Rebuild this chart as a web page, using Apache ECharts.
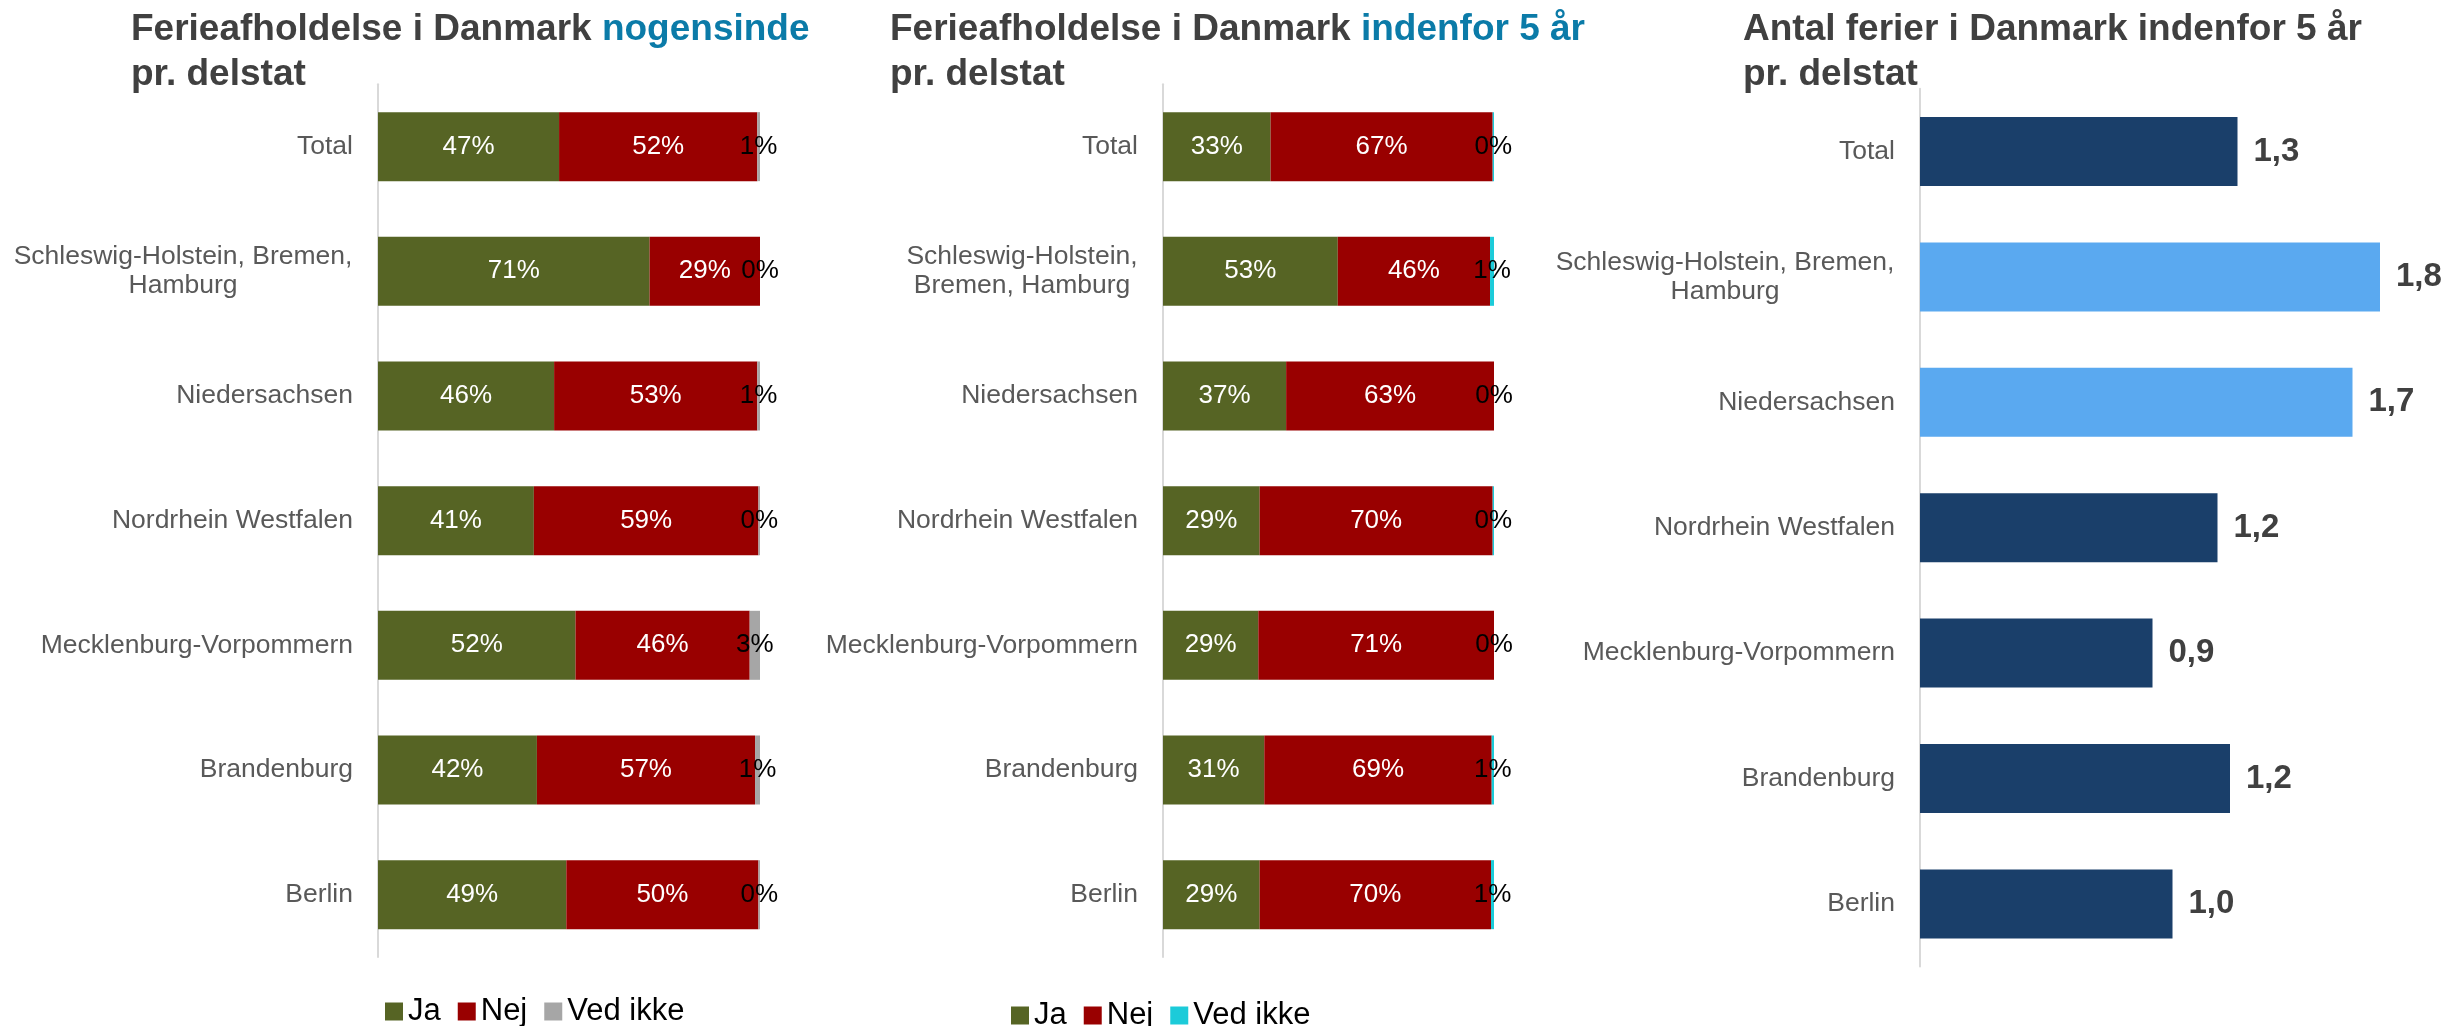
<!DOCTYPE html>
<html>
<head>
<meta charset="utf-8">
<script src="https://cdn.jsdelivr.net/npm/echarts@6/dist/echarts.min.js"></script>
<style>
  html, body { margin: 0; padding: 0; background: #fff; }
  #main { width: 2448px; height: 1026px; }
</style>
</head>
<body>
<div id="main"></div>
<script>
// delstater (oppefra og ned)
var categories = ['Total', 'Schleswig-Holstein, Bremen, Hamburg', 'Niedersachsen', 'Nordrhein Westfalen',
    'Mecklenburg-Vorpommern', 'Brandenburg', 'Berlin'];

// ferieafholdelse nogensinde (%)
var everJa      = [47.4, 71.1, 46.1, 40.8, 51.7, 41.6, 49.3];
var everNej     = [51.9, 28.9, 53.2, 58.8, 45.6, 57.1, 50.3];
var everVedIkke = [0.7, 0.0, 0.7, 0.4, 2.7, 1.3, 0.4];

// ferieafholdelse indenfor 5 år (%)
var recentJa      = [32.5, 52.8, 37.2, 29.2, 28.8, 30.6, 29.2];
var recentNej     = [67.1, 46.0, 62.8, 70.4, 71.2, 68.7, 69.9];
var recentVedIkke = [0.4, 1.2, 0.0, 0.4, 0.0, 0.7, 0.9];

// antal ferier indenfor 5 år
var tripsPerState = [1.27, 1.84, 1.73, 1.19, 0.93, 1.24, 1.01];
var highlighted = ['Schleswig-Holstein, Bremen, Hamburg', 'Niedersachsen'];

var FONT = "'Liberation Sans', Arial, sans-serif";
var cJa = '#566424', cNej = '#990000', cGrey = '#a6a6a6', cCyan = '#1ccbd9';
var cNavy = '#1a3f6a', cLight = '#5aa9f0';

function catLabel(firstLineWidth, breakMode) {
    return {
        color: '#595959', fontSize: 26.5, fontFamily: FONT, margin: 25, lineHeight: 29,
        formatter: function (v) {
            if (v.indexOf('Hamburg') < 0) return v;
            var txt = breakMode === 1 ? 'Schleswig-Holstein,\nBremen, Hamburg'
                                      : 'Schleswig-Holstein, Bremen,\nHamburg';
            return txt.split('\n').map(function (l) { return '{c|' + l + '}'; }).join('\n');
        },
        rich: { c: { width: firstLineWidth, align: 'center', color: '#595959', fontSize: 26.5,
                     fontFamily: FONT, lineHeight: 29 } }
    };
}

function yAxisFor(idx, labelWidth, breakMode) {
    return {
        type: 'category', gridIndex: idx, data: categories, inverse: true,
        axisLine: { show: true, lineStyle: { color: '#d9d9d9', width: 2 } },
        axisTick: { show: false },
        axisLabel: catLabel(labelWidth, breakMode)
    };
}

function pct(p) { return Math.round(p.value) + '%'; }

function stackSeries(name, data, color, idx, stack, labelColor) {
    return {
        name: name, type: 'bar', stack: stack, xAxisIndex: idx, yAxisIndex: idx,
        data: data, barWidth: 69,
        itemStyle: { color: color },
        label: { show: true, position: 'inside', formatter: pct, color: labelColor,
                 fontSize: 26, fontFamily: FONT },
        emphasis: { disabled: true }
    };
}

function titleFor(left, first, blue) {
    return {
        left: left, top: 7, padding: 0,
        text: '{a|' + first + '}' + (blue ? '{b|' + blue + '}' : '') + '\n{a|pr. delstat}',
        textStyle: {
            rich: {
                a: { fontSize: 37, fontWeight: 'bold', color: '#404040', fontFamily: FONT, lineHeight: 45 },
                b: { fontSize: 37, fontWeight: 'bold', color: '#0b7ba8', fontFamily: FONT, lineHeight: 45 }
            }
        }
    };
}

var myChart = echarts.init(document.getElementById('main'));
var option = {
    animation: false,
    backgroundColor: '#fff',
    title: [
        titleFor(131, 'Ferieafholdelse i Danmark ', 'nogensinde'),
        titleFor(890, 'Ferieafholdelse i Danmark ', 'indenfor 5 år'),
        titleFor(1743, 'Antal ferier i Danmark indenfor 5 år', null)
    ],
    legend: [
        {
            left: 380, top: 991, itemWidth: 18, itemHeight: 18, itemGap: 17, icon: 'rect',
            textStyle: { fontSize: 31, color: '#000', fontFamily: FONT },
            data: [{ name: 'Ja', itemStyle: { color: cJa } },
                   { name: 'Nej', itemStyle: { color: cNej } },
                   { name: 'Ved ikke', itemStyle: { color: cGrey } }]
        },
        {
            left: 1006, top: 995, itemWidth: 18, itemHeight: 18, itemGap: 17, icon: 'rect',
            textStyle: { fontSize: 31, color: '#000', fontFamily: FONT },
            data: [{ name: 'Ja', itemStyle: { color: cJa } },
                   { name: 'Nej', itemStyle: { color: cNej } },
                   { name: 'Ved ikke', itemStyle: { color: cCyan } }]
        }
    ],
    grid: [
        { left: 378, top: 84.3, width: 382, height: 872.7 },
        { left: 1163, top: 84.3, width: 331, height: 872.7 },
        { left: 1920, top: 88.8, width: 500, height: 877.8 }
    ],
    xAxis: [
        { type: 'value', gridIndex: 0, min: 0, max: 100, show: false },
        { type: 'value', gridIndex: 1, min: 0, max: 100, show: false },
        { type: 'value', gridIndex: 2, min: 0, max: 2, show: false }
    ],
    yAxis: [
        yAxisFor(0, 340, 0),
        yAxisFor(1, 232, 1),
        yAxisFor(2, 340, 0)
    ],
    series: [
        stackSeries('Ja', everJa, cJa, 0, 'ever', '#fff'),
        stackSeries('Nej', everNej, cNej, 0, 'ever', '#fff'),
        stackSeries('Ved ikke', everVedIkke, cGrey, 0, 'ever', '#000'),
        stackSeries('Ja', recentJa, cJa, 1, 'recent', '#fff'),
        stackSeries('Nej', recentNej, cNej, 1, 'recent', '#fff'),
        stackSeries('Ved ikke', recentVedIkke, cCyan, 1, 'recent', '#000'),
        {
            name: 'Antal ferier', type: 'bar', xAxisIndex: 2, yAxisIndex: 2, barWidth: 69,
            data: tripsPerState.map(function (v, i) {
                return { value: v, itemStyle: { color: highlighted.indexOf(categories[i]) >= 0 ? cLight : cNavy } };
            }),
            label: {
                show: true, position: 'right', distance: 16, color: '#404040',
                fontSize: 33, fontWeight: 'bold', fontFamily: FONT,
                formatter: function (p) { return p.value.toFixed(1).replace('.', ','); }
            },
            emphasis: { disabled: true }
        }
    ]
};
myChart.setOption(option);
</script>
</body>
</html>
